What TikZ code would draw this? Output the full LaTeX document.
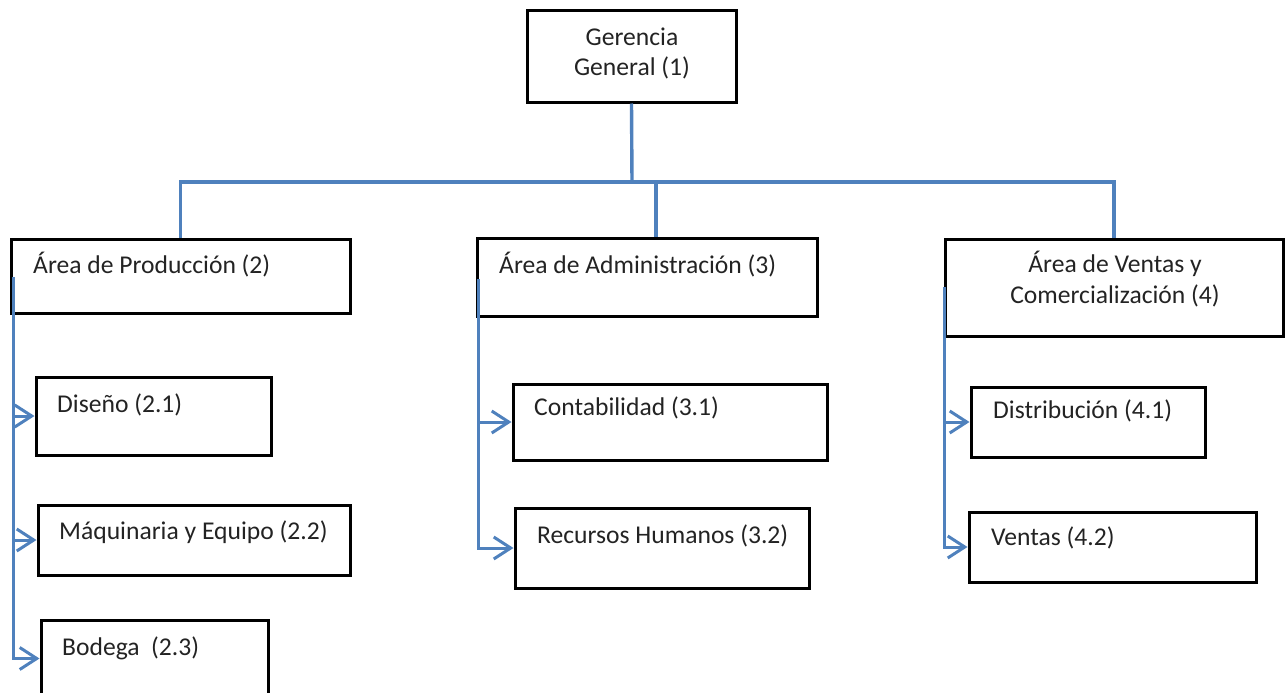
\documentclass[tikz,border=0pt]{standalone}
\usepackage{fontspec}
\setmainfont{Carlito}
\usetikzlibrary{arrows.meta,calc}
\definecolor{linkblue}{RGB}{79,129,189}
\definecolor{inktext}{RGB}{35,35,35}
\begin{document}
\begin{tikzpicture}[x=1pt,y=-1pt,
  box/.style={draw=black,line width=3pt,inner sep=0pt},
  lbl/.style={inner sep=0pt,anchor=base west,text=inktext,font=\fontsize{25.6}{30.5}\selectfont},
  bus/.style={draw=linkblue,line width=3.4pt},
  feed/.style={draw=linkblue,line width=3pt,-{Straight Barb[length=17pt,width=22pt]}}
]
\useasboundingbox (0,0) rectangle (1288,693);

% boxes
\node[box,minimum width=209pt,minimum height=91pt] (g)   at (631.5,56.5) {};
\node[box,minimum width=339pt,minimum height=74pt] (p2)  at (180.5,276) {};
\node[box,minimum width=340pt,minimum height=78pt] (p3)  at (647,277) {};
\node[box,minimum width=338pt,minimum height=97pt] (p4)  at (1114,287.5) {};
\node[box,minimum width=235pt,minimum height=78pt] (d21) at (153.5,416) {};
\node[box,minimum width=312pt,minimum height=70pt] (d22) at (194,540) {};
\node[box,minimum width=227pt,minimum height=77pt] (d23) at (154.5,658.5) {};
\node[box,minimum width=314pt,minimum height=76pt] (d31) at (670,422) {};
\node[box,minimum width=294pt,minimum height=80pt] (d32) at (662,548) {};
\node[box,minimum width=234pt,minimum height=70pt] (d41) at (1088,422) {};
\node[box,minimum width=287pt,minimum height=70pt] (d42) at (1112.5,547) {};

% labels (multi-line ones are placed by the baseline of their last line)
\node[lbl,anchor=base,align=center] (tg) at (632,76) {Gerencia\\General (1)};
\node[lbl] (t2)  at (33,273)  {Área de Producción (2)};
\node[lbl] (t3)  at (499,273) {Área de Administración (3)};
\node[lbl,anchor=base,align=center] (t4) at (1115,303) {Área de Ventas y\\Comercialización (4)};
\node[lbl] (t21) at (57,412)  {Diseño (2.1)};
\node[lbl] (t22) at (59,539)  {Máquinaria y Equipo (2.2)};
\node[lbl] (t23) at (62,655)  {Bodega\ \ (2.3)};
\node[lbl] (t31) at (534,415) {Contabilidad (3.1)};
\node[lbl] (t32) at (537,543) {Recursos Humanos (3.2)};
\node[lbl] (t41) at (993,418) {Distribución (4.1)};
\node[lbl] (t42) at (991,545) {Ventas (4.2)};

% top-level bus
\coordinate (hub) at (632,182);
\coordinate (mid) at (656,182);
\draw[bus] (g.south) -- (hub);
\draw[bus] (p2.north) |- (hub) -| (p4.north);
\draw[bus] (mid) -- (mid |- p3.north);

% branches to sub-areas
\coordinate (s2) at (13,277);
\coordinate (s3) at (478,279);
\coordinate (s4) at (944,287);
\draw[feed] (s2) |- (d21.west);
\draw[feed] (s2) |- (d22.west);
\draw[feed] (s2) |- (d23.west);
\draw[feed] (s3) |- (d31.west);
\draw[feed] (s3) |- (d32.west);
\draw[feed] (s4) |- (d41.west);
\draw[feed] (s4) |- (d42.west);
\end{tikzpicture}
\end{document}
